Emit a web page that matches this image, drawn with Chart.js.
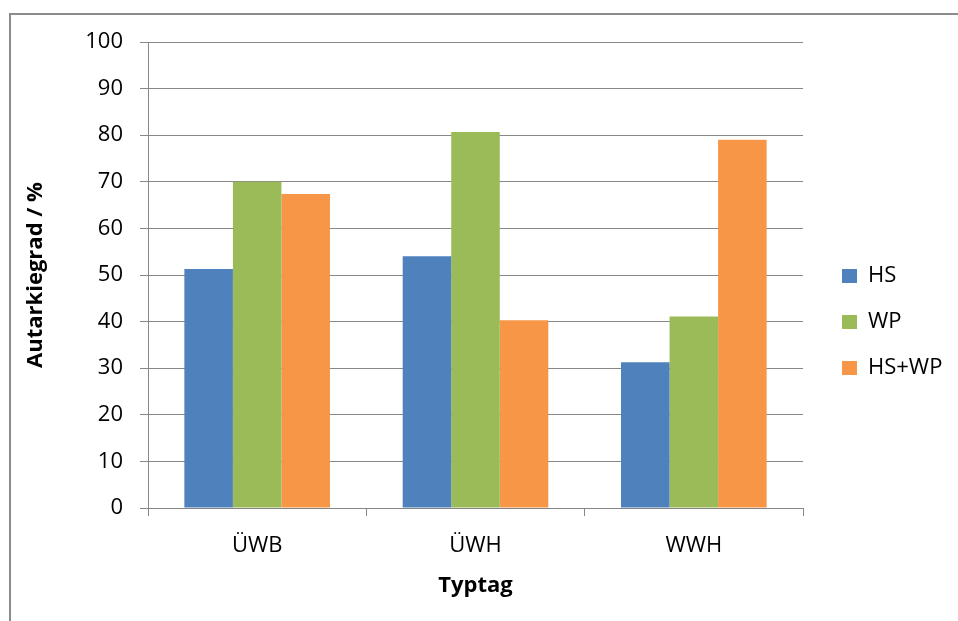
<!DOCTYPE html>
<html>
<head>
<meta charset="utf-8">
<script src="https://cdn.jsdelivr.net/npm/chart.js@4"></script>
<style>
  html, body { margin: 0; padding: 0; background: #fff; }
  #frame {
    position: absolute; left: 9px; top: 13px;
    width: 947px; height: 606px;
    border-left: 2px solid #8c8c8c; border-top: 2px solid #8c8c8c;
  }
  canvas { display: block; }
</style>
</head>
<body>
<div id="frame"><canvas id="chart" width="947" height="606"></canvas></div>
<script>
// chart data
const categories = ['ÜWB', 'ÜWH', 'WWH'];
const seriesNames = ['HS', 'WP', 'HS+WP'];
const hsValues = [51.3, 54.0, 31.3];
const wpValues = [70.0, 80.7, 41.1];
const hsWpValues = [67.4, 40.3, 79.0];
const yTickValues = [0, 10, 20, 30, 40, 50, 60, 70, 80, 90, 100];

const colors = ['#4F81BD', '#9BBB59', '#F79646'];
const gridColor = '#878787';
const fontFamily = '"Open Sans", sans-serif';
const fontSize = 22;

// pin the legend box width and put it where the reference has it
const legendPlace = {
    id: 'legendPlace',
    beforeLayout(chart) {
        const lg = chart.legend;
        if (lg && !lg._patched) {
            const fit = lg.fit.bind(lg);
            lg.fit = function() { fit(); this.width = 155; };
            lg._patched = true;
        }
    },
    afterLayout(chart) {
        const lg = chart.legend;
        const h = lg.height;
        lg.left = 807;
        lg.right = lg.left + lg.width;
        lg.top = 226;
        lg.bottom = lg.top + h;
    }
};

const ctx = document.getElementById('chart').getContext('2d');
new Chart(ctx, {
    type: 'bar',
    data: {
        labels: categories,
        datasets: [hsValues, wpValues, hsWpValues].map((vals, i) => ({
            label: seriesNames[i],
            data: vals,
            backgroundColor: colors[i],
            borderWidth: 0,
            categoryPercentage: 0.667,
            barPercentage: 1.0
        }))
    },
    options: {
        responsive: false,
        animation: false,
        layout: { padding: { top: 27, left: 0, right: 0, bottom: 0 } },
        plugins: {
            tooltip: { enabled: false },
            legend: {
                position: 'right',
                align: 'start',
                labels: {
                    boxWidth: 15,
                    boxHeight: 14,
                    padding: 24,
                    color: '#000',
                    font: { family: fontFamily, size: fontSize }
                }
            }
        },
        scales: {
            x: {
                grid: { drawOnChartArea: false, drawTicks: true, tickLength: 8, color: gridColor, offset: true },
                border: { color: gridColor, width: 1 },
                ticks: { color: '#000', padding: 17, font: { family: fontFamily, size: fontSize } },
                title: {
                    display: true, text: 'Typtag', color: '#000',
                    font: { family: fontFamily, size: fontSize, weight: 'bold' },
                    padding: { top: 0, bottom: 22 }
                },
                afterFit: s => { s.height = 113; }
            },
            y: {
                min: 0, max: 100,
                afterBuildTicks: s => { s.ticks = yTickValues.map(v => ({ value: v })); },
                grid: { color: gridColor, lineWidth: 1, tickLength: 8 },
                border: { color: gridColor, width: 1 },
                ticks: { color: '#000', padding: 17, font: { family: fontFamily, size: fontSize } },
                title: {
                    display: true, text: 'Autarkiegrad / %', color: '#000',
                    font: { family: fontFamily, size: fontSize, weight: 'bold' },
                    padding: { top: 12, bottom: 0 }
                },
                afterFit: s => {
                    s.width = 137;
                    s.paddingTop = 0;
                    s.paddingBottom = 0;
                }
            }
        }
    },
    plugins: [legendPlace]
});
</script>
</body>
</html>
